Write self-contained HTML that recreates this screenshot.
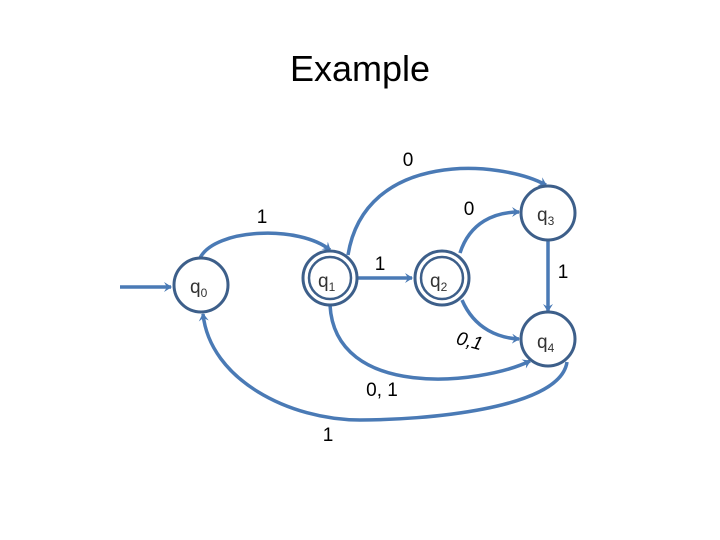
<!DOCTYPE html>
<html><head><meta charset="utf-8"><style>
html,body{margin:0;padding:0;background:#fff;width:720px;height:540px;overflow:hidden}
</style></head><body>
<svg width="720" height="540" xmlns="http://www.w3.org/2000/svg" font-family="Liberation Sans, sans-serif">
<defs>
<marker id="a" markerWidth="10" markerHeight="10" refX="7" refY="5" orient="auto" markerUnits="userSpaceOnUse">
<path d="M0,0 L8,5 L0,10 L3,5 Z" fill="#4a7ab5"/></marker>
</defs>
<text x="360" y="81" font-size="36" text-anchor="middle" fill="#000">Example</text>
<g fill="none" stroke="#4a7ab5" stroke-width="3.5">
<path d="M120,287 L171,287" marker-end="url(#a)"/>
<path d="M200,258 C215,228 300,225 330,250" marker-end="url(#a)"/>
<path d="M348,255 C365,150 500,160 546,185" marker-end="url(#a)"/>
<path d="M357,278 L412,278" marker-end="url(#a)"/>
<path d="M460,253 C470,222 495,212 519,212" marker-end="url(#a)"/>
<path d="M548,240 L548,311" marker-end="url(#a)"/>
<path d="M462,300 C475,330 500,338 519,339" marker-end="url(#a)"/>
<path d="M330,305 C335,400 480,385 530,361" marker-end="url(#a)"/>
<path d="M567,362 C560,410 420,420 360,420 C290,420 210,380 203,314" marker-end="url(#a)"/>
</g>
<g fill="#fff" stroke="#3d5f8a" stroke-width="3">
<circle cx="201" cy="285" r="27"/>
<circle cx="330" cy="278" r="27"/>
<circle cx="330" cy="278" r="21" stroke-width="2.5"/>
<circle cx="442" cy="278" r="27"/>
<circle cx="442" cy="278" r="21" stroke-width="2.5"/>
<circle cx="548" cy="213" r="27"/>
<circle cx="548" cy="339" r="27"/>
</g>
<g font-size="19" fill="#333">
<text x="190" y="293">q<tspan font-size="12" dy="4">0</tspan></text>
<text x="318" y="287">q<tspan font-size="12" dy="4">1</tspan></text>
<text x="430" y="287">q<tspan font-size="12" dy="4">2</tspan></text>
<text x="537" y="221">q<tspan font-size="12" dy="4">3</tspan></text>
<text x="537" y="348">q<tspan font-size="12" dy="4">4</tspan></text>
</g>
<g font-size="19" fill="#000" text-anchor="middle">
<text x="262" y="223">1</text>
<text x="408" y="166">0</text>
<text x="380" y="270">1</text>
<text x="469" y="215">0</text>
<text x="563" y="278">1</text>
<text x="382" y="396">0, 1</text>
<text x="328" y="441">1</text>
<text x="0" y="0" font-style="italic" transform="translate(468,347) rotate(15)">0,1</text>
</g>
</svg>
</body></html>
